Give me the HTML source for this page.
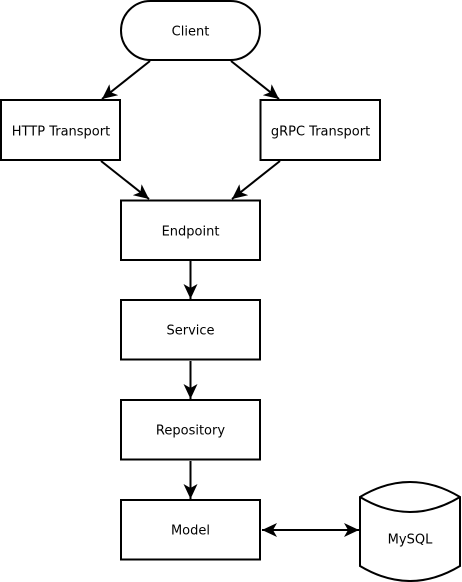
<!DOCTYPE html>
<html><head><style>
html,body{margin:0;padding:0;background:#fff;}
svg{display:block;}
</style></head><body>
<svg width="462" height="582" viewBox="0 0 462 582" xmlns="http://www.w3.org/2000/svg">
<defs>
<marker id="a" markerWidth="15" markerHeight="14" refX="15" refY="7" orient="auto" markerUnits="userSpaceOnUse" viewBox="0 0 15 14">
<path d="M0,0 L15,7 L0,14 L4,7 Z" fill="#000"/>
</marker>
<marker id="b" markerWidth="15" markerHeight="14" refX="0" refY="7" orient="auto" markerUnits="userSpaceOnUse" viewBox="0 0 15 14">
<path d="M15,0 L0,7 L15,14 L11,7 Z" fill="#000"/>
</marker>
</defs>
<g fill="#fff" stroke="#000" stroke-width="2">
<rect x="121" y="1" width="139" height="59" rx="29.5" ry="29.5"/>
<rect x="1" y="100" width="119" height="60"/>
<rect x="260.5" y="100" width="119.5" height="60"/>
<rect x="121" y="200.5" width="139" height="59.5"/>
<rect x="121" y="300" width="139" height="59.5"/>
<rect x="121" y="400" width="139" height="59.5"/>
<rect x="121" y="500" width="139" height="59.5"/>
<path d="M360,497 Q410,467 460,497 L460,566 Q410,596 360,566 Z"/>
<path d="M360,497 Q410,527 460,497" fill="none"/>
</g>
<g stroke="#000" stroke-width="2" fill="none">
<line x1="150" y1="61" x2="102" y2="99" marker-end="url(#a)"/>
<line x1="231" y1="61" x2="279" y2="99" marker-end="url(#a)"/>
<line x1="101" y1="161" x2="149" y2="199" marker-end="url(#a)"/>
<line x1="280" y1="161" x2="232" y2="199" marker-end="url(#a)"/>
<line x1="190.5" y1="261" x2="190.5" y2="299" marker-end="url(#a)"/>
<line x1="190.5" y1="361" x2="190.5" y2="399" marker-end="url(#a)"/>
<line x1="190.5" y1="461" x2="190.5" y2="499" marker-end="url(#a)"/>
<line x1="262" y1="530" x2="359" y2="530" marker-start="url(#b)" marker-end="url(#a)"/>
</g>
<g font-family="DejaVu Sans, Liberation Sans, sans-serif" font-size="13" fill="#000" text-anchor="middle">
<text x="190.5" y="35.5">Client</text>
<text x="61" y="135.5">HTTP Transport</text>
<text x="320.5" y="135.5">gRPC Transport</text>
<text x="190.5" y="235.5">Endpoint</text>
<text x="190.5" y="334.5">Service</text>
<text x="190.5" y="434.5">Repository</text>
<text x="190.5" y="534.5">Model</text>
<text x="410" y="543.5">MySQL</text>
</g>
</svg>
</body></html>
